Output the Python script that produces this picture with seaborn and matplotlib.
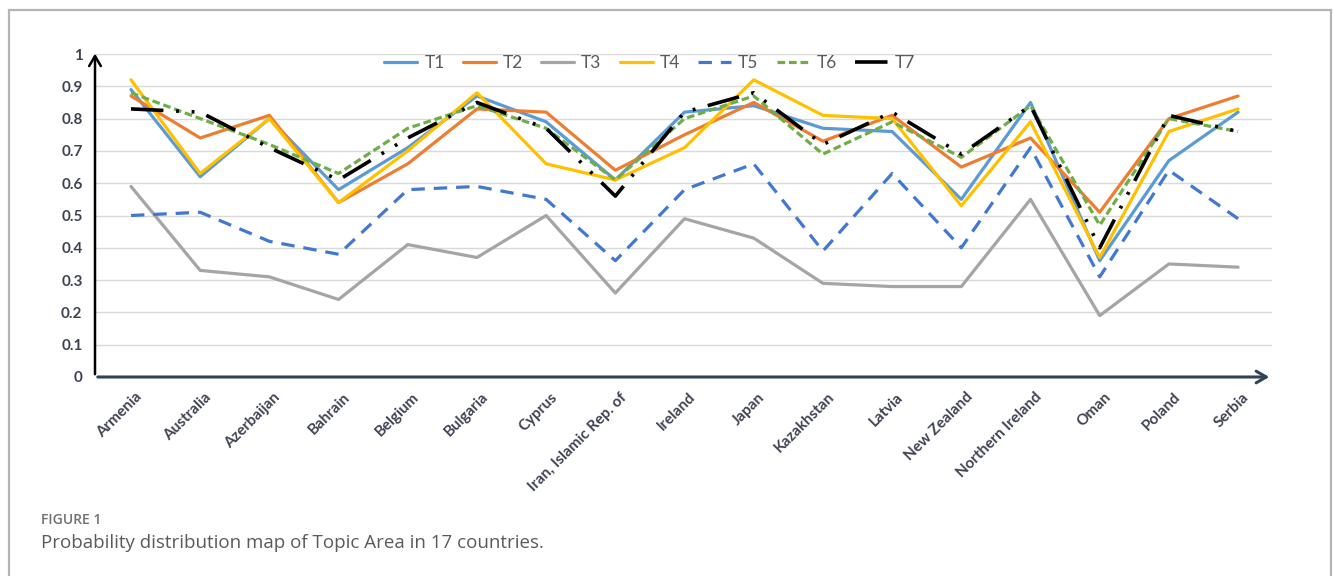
import numpy as np
import pandas as pd
import matplotlib
matplotlib.use("Agg")
import matplotlib.pyplot as plt
import matplotlib.transforms as mtransforms
from matplotlib.lines import Line2D
import seaborn as sns

countries = ["Armenia", "Australia", "Azerbaijan", "Bahrain", "Belgium", "Bulgaria",
             "Cyprus", "Iran, Islamic Rep. of", "Ireland", "Japan", "Kazakhstan",
             "Latvia", "New Zealand", "Northern Ireland", "Oman", "Poland", "Serbia"]

t1 = [0.89, 0.62, 0.80, 0.58, 0.71, 0.87, 0.79, 0.61, 0.82, 0.84, 0.77, 0.76, 0.55, 0.85, 0.36, 0.67, 0.82]
t2 = [0.87, 0.74, 0.81, 0.54, 0.66, 0.83, 0.82, 0.64, 0.75, 0.85, 0.73, 0.81, 0.65, 0.74, 0.51, 0.80, 0.87]
t3 = [0.59, 0.33, 0.31, 0.24, 0.41, 0.37, 0.50, 0.26, 0.49, 0.43, 0.29, 0.28, 0.28, 0.55, 0.19, 0.35, 0.34]
t4 = [0.92, 0.63, 0.80, 0.54, 0.70, 0.88, 0.66, 0.61, 0.71, 0.92, 0.81, 0.80, 0.53, 0.79, 0.37, 0.76, 0.83]
t5 = [0.50, 0.51, 0.42, 0.38, 0.58, 0.59, 0.55, 0.36, 0.58, 0.66, 0.39, 0.63, 0.40, 0.71, 0.31, 0.64, 0.49]
t6 = [0.88, 0.80, 0.72, 0.63, 0.77, 0.84, 0.77, 0.61, 0.80, 0.87, 0.69, 0.79, 0.68, 0.84, 0.47, 0.80, 0.76]
t7 = [0.83, 0.82, 0.71, 0.61, 0.74, 0.85, 0.77, 0.56, 0.82, 0.88, 0.72, 0.82, 0.69, 0.84, 0.40, 0.81, 0.76]

series = {"T1": t1, "T2": t2, "T3": t3, "T4": t4, "T5": t5, "T6": t6, "T7": t7}
colors = {"T1": "#5B9BD5", "T2": "#ED7D31", "T3": "#A5A5A5", "T4": "#FFC000",
          "T5": "#4178D0", "T6": "#70AD47", "T7": "#000000"}
styles = {"T1": "-", "T2": "-", "T3": "-", "T4": "-",
          "T5": (0, (4.2, 2.8)), "T6": (0, (2.4, 1.2)),
          "T7": (0, (9, 3.5, 0.8, 3.5, 0.8, 3.5))}

sns.set_theme(style="white")
plt.rcParams["font.family"] = ["Lato", "DejaVu Sans"]

fig = plt.figure(figsize=(13.33, 5.76), dpi=100)
W, H = 1333, 576
ax = fig.add_axes([95 / W, 199 / H, (1272 - 95) / W, 323 / H])

for name, vals in series.items():
    df = pd.DataFrame({"country": countries, "value": vals})
    sns.lineplot(data=df, x="country", y="value", ax=ax, color=colors[name],
                 linestyle=styles[name], linewidth=2.6 if name == "T7" else 2.3,
                 label=name, sort=False, dash_capstyle="butt")

ax.set_xlim(-0.52, 16.49)
ax.set_ylim(0, 1)
ax.set_yticks(np.arange(0, 1.01, 0.1))
ax.set_yticklabels(["0", "0.1", "0.2", "0.3", "0.4", "0.5", "0.6", "0.7", "0.8", "0.9", "1"],
                   fontweight="bold", fontsize=11, color="#3f4252")
ax.yaxis.grid(True, color="#d9d9d9", linewidth=1)
ax.xaxis.grid(False)
ax.set_xlabel("")
ax.set_ylabel("")
for s in ax.spines.values():
    s.set_visible(False)
ax.tick_params(axis="y", length=0, pad=9)
ax.tick_params(axis="x", length=0, pad=13)

ax.set_xticks(range(len(countries)))
ax.set_xticklabels(countries, rotation=45, ha="right", va="center",
                   rotation_mode="anchor", fontweight="bold", fontsize=11, color="#3f4252")
offset = mtransforms.ScaledTranslation(9 / 100, 0, fig.dpi_scale_trans)
for lab in ax.get_xticklabels():
    lab.set_transform(lab.get_transform() + offset)

# axis arrows
ax.annotate("", xy=(0, 1.01), xytext=(0, 0), xycoords="axes fraction",
            arrowprops=dict(arrowstyle="->,head_length=0.6,head_width=0.35", color="black", lw=1.8),
            annotation_clip=False)
ax.annotate("", xy=(1.0, 0), xytext=(0, 0), xycoords="axes fraction",
            arrowprops=dict(arrowstyle="->,head_length=0.6,head_width=0.35", color="#2f4256", lw=2.2),
            annotation_clip=False)

leg = ax.legend(loc="center", bbox_to_anchor=(650 / W, 1 - 63 / H), bbox_transform=fig.transFigure,
                ncol=7, frameon=False, fontsize=12.5, handlelength=1.9, handletextpad=0.4,
                columnspacing=1.05)
for t in leg.get_texts():
    t.set_color("#595959")

# figure frame
fc = "#b4b4b4"
fig.add_artist(Line2D([9 / W, 1331 / W], [1 - 10 / H, 1 - 10 / H], color=fc, lw=1.6))
fig.add_artist(Line2D([9 / W, 9 / W], [0, 1 - 10 / H], color=fc, lw=1.6))
fig.add_artist(Line2D([1331 / W, 1331 / W], [0, 1 - 10 / H], color=fc, lw=1.6))

fig.text(41 / W, 1 - 520 / H, "FIGURE 1", fontsize=10, fontweight="semibold", color="#707070",
         family=["Open Sans", "DejaVu Sans"], va="center")
fig.text(41 / W, 1 - 543 / H, "Probability distribution map of Topic Area in 17 countries.",
         fontsize=13.5, color="#5a5a5a", family=["Open Sans", "DejaVu Sans"], va="center")

fig.savefig("out.png", dpi=100, facecolor="white")
